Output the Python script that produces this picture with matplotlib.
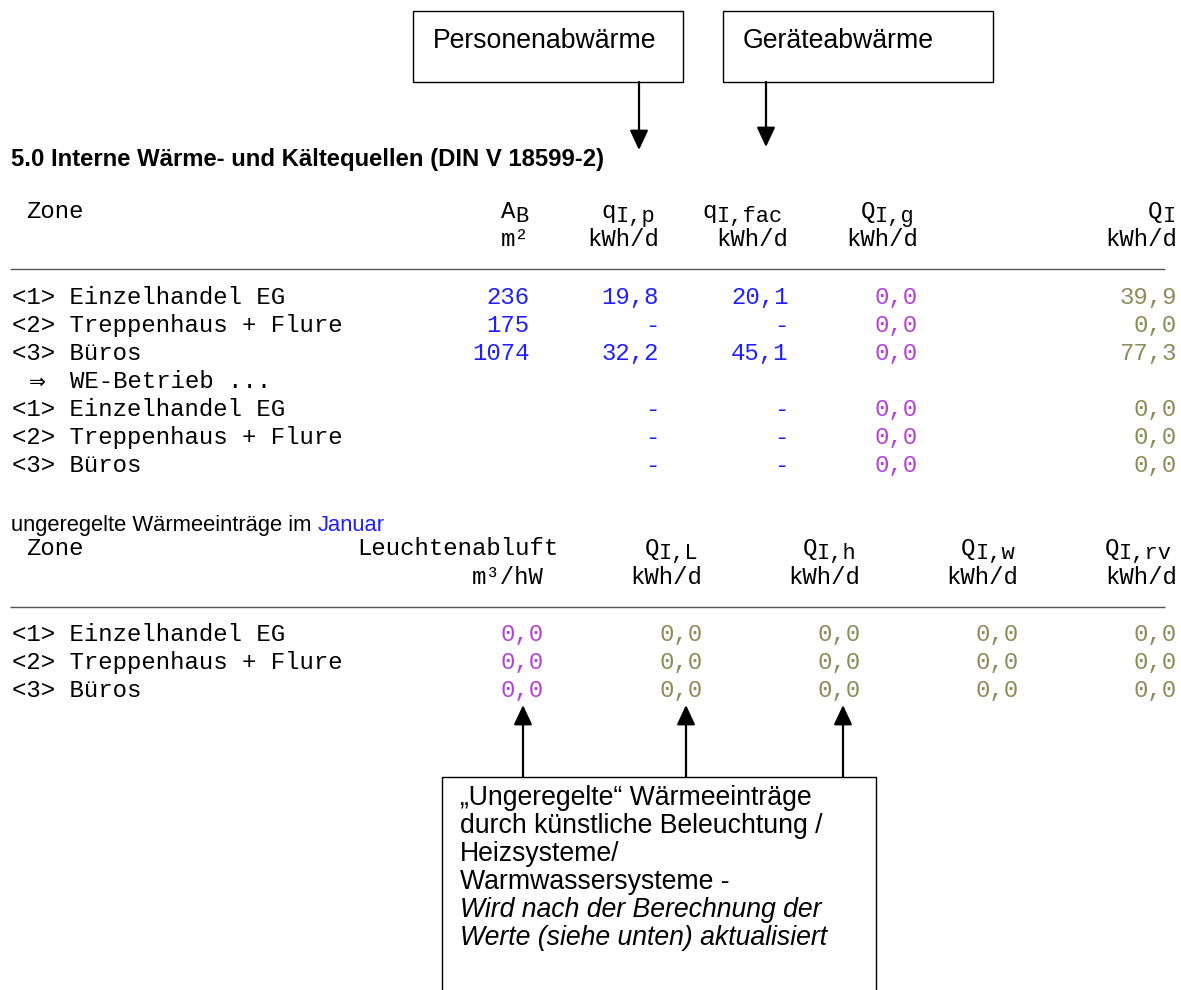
import matplotlib
matplotlib.use("Agg")
import matplotlib.pyplot as plt
from matplotlib.patches import Rectangle, FancyArrowPatch

# ---------------- data ----------------
zones = ["<1> Einzelhandel EG", "<2> Treppenhaus + Flure", "<3> Büros"]
area_m2 = [236, 175, 1074]
q_I_p = [19.8, None, 32.2]
q_I_fac = [20.1, None, 45.1]
Q_I_g = [0.0, 0.0, 0.0]
Q_I = [39.9, 0.0, 77.3]
# WE-Betrieb block
we_q_I_p = [None, None, None]
we_q_I_fac = [None, None, None]
we_Q_I_g = [0.0, 0.0, 0.0]
we_Q_I = [0.0, 0.0, 0.0]
# ungeregelte Wärmeeinträge im Januar
leuchtenabluft = [0.0, 0.0, 0.0]
Q_I_L = [0.0, 0.0, 0.0]
Q_I_h = [0.0, 0.0, 0.0]
Q_I_w = [0.0, 0.0, 0.0]
Q_I_rv = [0.0, 0.0, 0.0]

title = "5.0 Interne Wärme- und Kältequellen (DIN V 18599-2)"
box_top_labels = ["Personenabwärme", "Geräteabwärme"]
box_bottom_lines = ["„Ungeregelte“ Wärmeeinträge",
                    "durch künstliche Beleuchtung /",
                    "Heizsysteme/",
                    "Warmwassersysteme -"]
box_bottom_italic = ["Wird nach der Berechnung der",
                     "Werte (siehe unten) aktualisiert"]

# ---------------- styling / layout ----------------
W, H = 1181, 990
BLUE = "#1f1fff"
PURPLE = "#b343d4"
OLIVE = "#8c8c58"
MONO = ["Liberation Mono", "DejaVu Sans Mono"]
SANS = ["Liberation Sans", "DejaVu Sans"]
X0 = 12.0          # left edge of monospaced grid (px)
CW = 14.38         # char advance (px)
MONO_PT = CW / 0.6 * 72 / 100
SANS_BOX_PT = 19.2
TITLE_PT = 17.2
SUB_PT = 15.8

fig = plt.figure(figsize=(W / 100, H / 100), dpi=100)
ax = fig.add_axes([0, 0, 1, 1])
ax.set_xlim(0, W)
ax.set_ylim(H, 0)
ax.axis("off")


def fmt(v):
    if v is None:
        return "-"
    if isinstance(v, int):
        return str(v)
    return f"{v:.1f}".replace(".", ",")


def mono(col_right, y, s, color="black"):
    """right-align string s so that it ends at monospaced column col_right"""
    ax.text(X0 + col_right * CW, y + 6, s, ha="right", va="baseline",
            family=MONO, fontsize=MONO_PT, color=color)


def mono_left(col, y, s, color="black"):
    ax.text(X0 + col * CW, y + 6, s, ha="left", va="baseline",
            family=MONO, fontsize=MONO_PT, color=color)


def sub_header(col_right, y, main, sub):
    start = col_right - len(sub) - len(main)
    mono_left(start, y, main)
    ax.text(X0 + (col_right - len(sub)) * CW, y + 10, sub, ha="left",
            va="baseline", family=MONO, fontsize=MONO_PT * 0.92, color="black")


def rule(y):
    ax.plot([10, 1165], [y, y], color="#555555", lw=1.0, solid_capstyle="butt")


def arrow(x, y0, y1):
    ax.add_patch(FancyArrowPatch((x, y0), (x, y1), arrowstyle="-|>,head_length=0.6,head_width=0.28",
                                 mutation_scale=20, lw=1.6, color="black",
                                 shrinkA=0, shrinkB=0))


# ---- top annotation boxes ----
top_boxes = [(413, 683), (723, 993)]
for (xl, xr), lab in zip(top_boxes, box_top_labels):
    ax.add_patch(Rectangle((xl, 11), xr - xl, 71, fill=False, lw=1.0, ec="black"))
    ax.text(xl + 20, 48, lab, family=SANS, fontsize=SANS_BOX_PT, ha="left", va="baseline")
arrow(639, 82, 150)
arrow(766, 82, 147)

# ---- title ----
ax.text(11, 166, title, family=SANS, fontsize=TITLE_PT, fontweight="bold",
        ha="left", va="baseline")

# ---- table 1 ----
cols1 = [36, 45, 54, 63, 81]
yh1, yh2 = 212, 240
mono_left(1, yh1, "Zone")
sub_header(cols1[0], yh1, "A", "B")
sub_header(cols1[1], yh1, "q", "I,p")
sub_header(cols1[2], yh1, "q", "I,fac")
sub_header(cols1[3], yh1, "Q", "I,g")
sub_header(cols1[4], yh1, "Q", "I")
for c, u in zip(cols1, ["m²", "kWh/d", "kWh/d", "kWh/d", "kWh/d"]):
    mono(c, yh2, u)
rule(269)

row_y0, row_dy = 298, 28
for i, z in enumerate(zones):
    y = row_y0 + i * row_dy
    mono_left(0, y, z)
    mono(cols1[0], y, fmt(area_m2[i]), BLUE)
    mono(cols1[1], y, fmt(q_I_p[i]), BLUE)
    mono(cols1[2], y, fmt(q_I_fac[i]), BLUE)
    mono(cols1[3], y, fmt(Q_I_g[i]), PURPLE)
    mono(cols1[4], y, fmt(Q_I[i]), OLIVE)

y_we = row_y0 + 3 * row_dy
ax.text(X0 + 1.2 * CW, y_we + 6, "⇒", family=["DejaVu Sans"], fontsize=MONO_PT * 0.85,
        ha="left", va="baseline")
mono_left(4, y_we, "WE-Betrieb ...")
for i, z in enumerate(zones):
    y = row_y0 + (4 + i) * row_dy
    mono_left(0, y, z)
    mono(cols1[1], y, fmt(we_q_I_p[i]), BLUE)
    mono(cols1[2], y, fmt(we_q_I_fac[i]), BLUE)
    mono(cols1[3], y, fmt(we_Q_I_g[i]), PURPLE)
    mono(cols1[4], y, fmt(we_Q_I[i]), OLIVE)

# ---- section 2 ----
t = ax.text(11, 531, "ungeregelte Wärmeeinträge im ", family=SANS, fontsize=SUB_PT,
            ha="left", va="baseline")
fig.canvas.draw()
bb = t.get_window_extent(renderer=fig.canvas.get_renderer())
x_jan = ax.transData.inverted().transform((bb.x1, 0))[0]
ax.text(x_jan, 531, "Januar", family=SANS, fontsize=SUB_PT, color=BLUE,
        ha="left", va="baseline")

cols2 = [37, 48, 59, 70, 81]
yh1b, yh2b = 549, 578
mono_left(1, yh1b, "Zone")
mono(38, yh1b, "Leuchtenabluft")
sub_header(cols2[1], yh1b, "Q", "I,L")
sub_header(cols2[2], yh1b, "Q", "I,h")
sub_header(cols2[3], yh1b, "Q", "I,w")
sub_header(cols2[4], yh1b, "Q", "I,rv")
for c, u in zip(cols2, ["m³/hW", "kWh/d", "kWh/d", "kWh/d", "kWh/d"]):
    mono(c, yh2b, u)
rule(607)

row2_y0 = 635
for i, z in enumerate(zones):
    y = row2_y0 + i * row_dy
    mono_left(0, y, z)
    mono(cols2[0], y, fmt(leuchtenabluft[i]), PURPLE)
    mono(cols2[1], y, fmt(Q_I_L[i]), OLIVE)
    mono(cols2[2], y, fmt(Q_I_h[i]), OLIVE)
    mono(cols2[3], y, fmt(Q_I_w[i]), OLIVE)
    mono(cols2[4], y, fmt(Q_I_rv[i]), OLIVE)

# ---- bottom annotation box ----
box_l, box_r, box_t = 442, 876, 777
ax.plot([box_l, box_l, box_r, box_r], [H + 20, box_t, box_t, H + 20], color="black", lw=1.0)
for x in [523, 686, 843]:
    arrow(x, box_t, 705)
line_dy = 28.0
for k, s in enumerate(box_bottom_lines):
    ax.text(460, 805 + k * line_dy, s, family=SANS, fontsize=SANS_BOX_PT,
            ha="left", va="baseline")
for k, s in enumerate(box_bottom_italic):
    ax.text(460, 805 + (len(box_bottom_lines) + k) * line_dy, s, family=SANS,
            fontsize=SANS_BOX_PT, style="italic", ha="left", va="baseline")

fig.savefig("out.png", dpi=100)
